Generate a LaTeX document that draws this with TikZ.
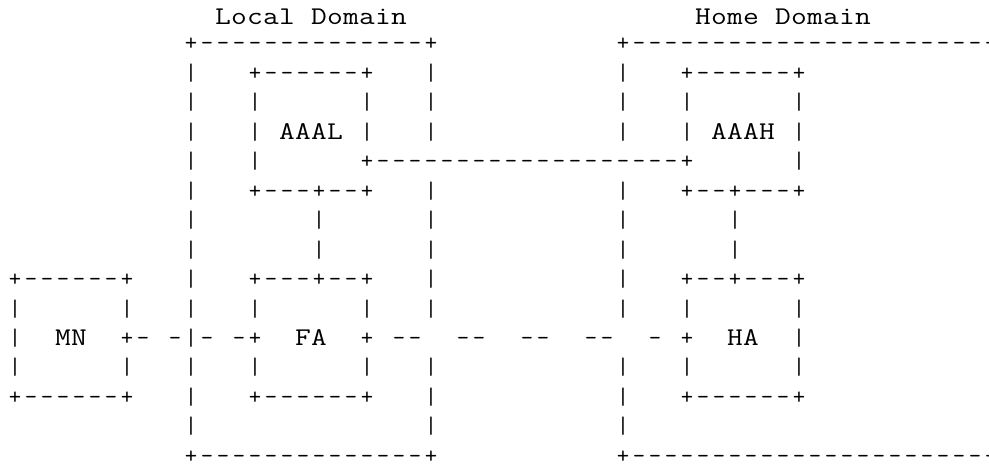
\documentclass[tikz,border=0pt]{standalone}
\usepackage{fontspec}
\usepackage{graphicx}
\setmonofont{Latin Modern Mono}
\ExplSyntaxOn
\NewDocumentCommand\asciirow{m}
 {
  \str_map_inline:nn {#1}
   {
    \str_case:nnF {##1}
     {
      {.} { \hbox_to_wd:nn {16pt} {\hfil} }
      {+} { \hbox_to_wd:nn {16pt} {\hfil + \hfil} }
      {-} { \hbox_to_wd:nn {16pt} {\hfil - \hfil} }
      {|} { \hbox_to_wd:nn {16pt} {\hfil | \hfil} }
     }
     { \hbox_to_wd:nn {16pt} {\hss \scalebox{1.2}[1]{\fontsize{25.5pt}{25.5pt}\selectfont ##1} \hss} }
   }
 }
\ExplSyntaxOff
\begin{document}
\begin{tikzpicture}[x=1pt,y=1pt,
  asciiline/.style={anchor=base west, inner sep=0pt, outer sep=0pt,
    font=\ttfamily\fontsize{24}{24}\selectfont}]
\clip (0,0) rectangle (989,464);
\fill[white] (0,0) rectangle (989,464);
\node[asciiline] (r1) at (7,439) {\asciirow{.............Local.Domain..................Home.Domain}};
\node[asciiline] (r2) at (7,{413-0*29.45}) {\asciirow{...........+--------------+...........+------------------------}};
\node[asciiline] (r3) at (7,{413-1*29.45}) {\asciirow{...........|...+------+...|...........|...+------+}};
\node[asciiline] (r4) at (7,{413-2*29.45}) {\asciirow{...........|...|......|...|...........|...|......|}};
\node[asciiline] (r5) at (7,{413-3*29.45}) {\asciirow{...........|...|.AAAL.|...|...........|...|.AAAH.|}};
\node[asciiline] (r6) at (7,{413-4*29.45}) {\asciirow{...........|...|......+-------------------+......|}};
\node[asciiline] (r7) at (7,{413-5*29.45}) {\asciirow{...........|...+---+--+...|...........|...+--+---+}};
\node[asciiline] (r8) at (7,{413-6*29.45}) {\asciirow{...........|.......|......|...........|......|}};
\node[asciiline] (r9) at (7,{413-7*29.45}) {\asciirow{...........|.......|......|...........|......|}};
\node[asciiline] (r10) at (7,{413-8*29.45}) {\asciirow{+------+...|...+---+--+...|...........|...+--+---+}};
\node[asciiline] (r11) at (7,{413-9*29.45}) {\asciirow{|......|...|...|......|...|...........|...|......|}};
\node[asciiline] (r12) at (7,{413-10*29.45}) {\asciirow{|..MN..+-.-|-.-+..FA..+.--..--..--..--..-.+..HA..|}};
\node[asciiline] (r13) at (7,{413-11*29.45}) {\asciirow{|......|...|...|......|...|...........|...|......|}};
\node[asciiline] (r14) at (7,{413-12*29.45}) {\asciirow{+------+...|...+------+...|...........|...+------+}};
\node[asciiline] (r15) at (7,{413-13*29.45}) {\asciirow{...........|..............|...........|}};
\node[asciiline] (r16) at (7,{413-14*29.45}) {\asciirow{...........+--------------+...........+------------------------}};
\end{tikzpicture}
\end{document}
